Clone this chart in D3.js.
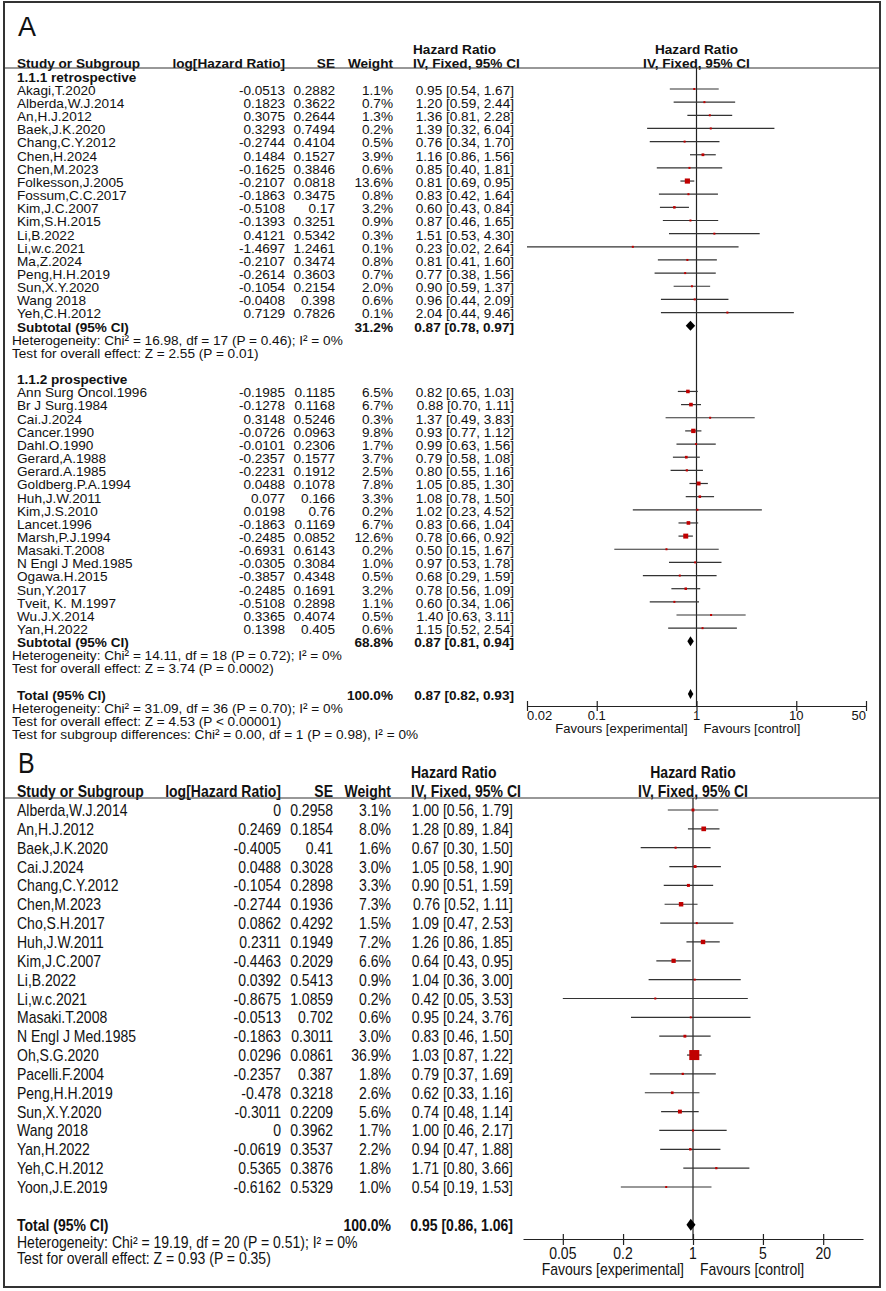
<!DOCTYPE html>
<html>
<head>
<meta charset="utf-8">
<script src="https://cdn.jsdelivr.net/npm/d3@7"></script>
<style>
  body { margin: 0; background: #fff; }
  text { font-family: "Liberation Sans", Arial, sans-serif; fill: #111; }
</style>
</head>
<body>
<svg id="chart" width="886" height="1291"></svg>
<script>
// ---- panel A, subgroup 1.1.1 retrospective
var retroStudy = ["Akagi,T.2020", "Alberda,W.J.2014", "An,H.J.2012", "Baek,J.K.2020", "Chang,C.Y.2012", "Chen,H.2024",
  "Chen,M.2023", "Folkesson,J.2005", "Fossum,C.C.2017", "Kim,J.C.2007", "Kim,S.H.2015", "Li,B.2022", "Li,w.c.2021",
  "Ma,Z.2024", "Peng,H.H.2019", "Sun,X.Y.2020", "Wang 2018", "Yeh,C.H.2012"];
var retroLogHR = [-0.0513, 0.1823, 0.3075, 0.3293, -0.2744, 0.1484, -0.1625, -0.2107, -0.1863, -0.5108, -0.1393, 0.4121,
  -1.4697, -0.2107, -0.2614, -0.1054, -0.0408, 0.7129];
var retroSE = [0.2882, 0.3622, 0.2644, 0.7494, 0.4104, 0.1527, 0.3846, 0.0818, 0.3475, 0.17, 0.3251, 0.5342, 1.2461,
  0.3474, 0.3603, 0.2154, 0.398, 0.7826];
var retroWeight = [1.1, 0.7, 1.3, 0.2, 0.5, 3.9, 0.6, 13.6, 0.8, 3.2, 0.9, 0.3, 0.1, 0.8, 0.7, 2.0, 0.6, 0.1];
var retroHR = [0.95, 1.20, 1.36, 1.39, 0.76, 1.16, 0.85, 0.81, 0.83, 0.60, 0.87, 1.51, 0.23, 0.81, 0.77, 0.90, 0.96, 2.04];
var retroLo = [0.54, 0.59, 0.81, 0.32, 0.34, 0.86, 0.40, 0.69, 0.42, 0.43, 0.46, 0.53, 0.02, 0.41, 0.38, 0.59, 0.44, 0.44];
var retroHi = [1.67, 2.44, 2.28, 6.04, 1.70, 1.56, 1.81, 0.95, 1.64, 0.84, 1.65, 4.30, 2.64, 1.60, 1.56, 1.37, 2.09, 9.46];
var retroSub = {w: 31.2, hr: 0.87, lo: 0.78, hi: 0.97};
var retroNotes = ["Heterogeneity: Chi\u00b2 = 16.98, df = 17 (P = 0.46); I\u00b2 = 0%",
  "Test for overall effect: Z = 2.55 (P = 0.01)"];

// ---- panel A, subgroup 1.1.2 prospective
var prosStudy = ["Ann Surg Oncol.1996", "Br J Surg.1984", "Cai.J.2024", "Cancer.1990", "Dahl.O.1990", "Gerard,A.1988",
  "Gerard.A.1985", "Goldberg.P.A.1994", "Huh,J.W.2011", "Kim,J.S.2010", "Lancet.1996", "Marsh,P.J.1994", "Masaki.T.2008",
  "N Engl J Med.1985", "Ogawa.H.2015", "Sun,Y.2017", "Tveit, K. M.1997", "Wu.J.X.2014", "Yan,H.2022"];
var prosLogHR = [-0.1985, -0.1278, 0.3148, -0.0726, -0.0101, -0.2357, -0.2231, 0.0488, 0.077, 0.0198, -0.1863, -0.2485,
  -0.6931, -0.0305, -0.3857, -0.2485, -0.5108, 0.3365, 0.1398];
var prosSE = [0.1185, 0.1168, 0.5246, 0.0963, 0.2306, 0.1577, 0.1912, 0.1078, 0.166, 0.76, 0.1169, 0.0852, 0.6143, 0.3084,
  0.4348, 0.1691, 0.2898, 0.4074, 0.405];
var prosWeight = [6.5, 6.7, 0.3, 9.8, 1.7, 3.7, 2.5, 7.8, 3.3, 0.2, 6.7, 12.6, 0.2, 1.0, 0.5, 3.2, 1.1, 0.5, 0.6];
var prosHR = [0.82, 0.88, 1.37, 0.93, 0.99, 0.79, 0.80, 1.05, 1.08, 1.02, 0.83, 0.78, 0.50, 0.97, 0.68, 0.78, 0.60, 1.40, 1.15];
var prosLo = [0.65, 0.70, 0.49, 0.77, 0.63, 0.58, 0.55, 0.85, 0.78, 0.23, 0.66, 0.66, 0.15, 0.53, 0.29, 0.56, 0.34, 0.63, 0.52];
var prosHi = [1.03, 1.11, 3.83, 1.12, 1.56, 1.08, 1.16, 1.30, 1.50, 4.52, 1.04, 0.92, 1.67, 1.78, 1.59, 1.09, 1.06, 3.11, 2.54];
var prosSub = {w: 68.8, hr: 0.87, lo: 0.81, hi: 0.94};
var prosNotes = ["Heterogeneity: Chi\u00b2 = 14.11, df = 18 (P = 0.72); I\u00b2 = 0%",
  "Test for overall effect: Z = 3.74 (P = 0.0002)"];

var totalA = {w: 100.0, hr: 0.87, lo: 0.82, hi: 0.93};
var totalANotes = ["Heterogeneity: Chi\u00b2 = 31.09, df = 36 (P = 0.70); I\u00b2 = 0%",
  "Test for overall effect: Z = 4.53 (P < 0.00001)",
  "Test for subgroup differences: Chi\u00b2 = 0.00, df = 1 (P = 0.98), I\u00b2 = 0%"];
var ticksA = [0.02, 0.1, 1, 10, 50];

// ---- panel B
var bStudy = ["Alberda,W.J.2014", "An,H.J.2012", "Baek,J.K.2020", "Cai.J.2024", "Chang,C.Y.2012", "Chen,M.2023",
  "Cho,S.H.2017", "Huh,J.W.2011", "Kim,J.C.2007", "Li,B.2022", "Li,w.c.2021", "Masaki.T.2008", "N Engl J Med.1985",
  "Oh,S.G.2020", "Pacelli.F.2004", "Peng,H.H.2019", "Sun,X.Y.2020", "Wang 2018", "Yan,H.2022", "Yeh,C.H.2012",
  "Yoon,J.E.2019"];
var bLogHR = [0, 0.2469, -0.4005, 0.0488, -0.1054, -0.2744, 0.0862, 0.2311, -0.4463, 0.0392, -0.8675, -0.0513, -0.1863,
  0.0296, -0.2357, -0.478, -0.3011, 0, -0.0619, 0.5365, -0.6162];
var bSE = [0.2958, 0.1854, 0.41, 0.3028, 0.2898, 0.1936, 0.4292, 0.1949, 0.2029, 0.5413, 1.0859, 0.702, 0.3011, 0.0861,
  0.387, 0.3218, 0.2209, 0.3962, 0.3537, 0.3876, 0.5329];
var bWeight = [3.1, 8.0, 1.6, 3.0, 3.3, 7.3, 1.5, 7.2, 6.6, 0.9, 0.2, 0.6, 3.0, 36.9, 1.8, 2.6, 5.6, 1.7, 2.2, 1.8, 1.0];
var bHR = [1.00, 1.28, 0.67, 1.05, 0.90, 0.76, 1.09, 1.26, 0.64, 1.04, 0.42, 0.95, 0.83, 1.03, 0.79, 0.62, 0.74, 1.00,
  0.94, 1.71, 0.54];
var bLo = [0.56, 0.89, 0.30, 0.58, 0.51, 0.52, 0.47, 0.86, 0.43, 0.36, 0.05, 0.24, 0.46, 0.87, 0.37, 0.33, 0.48, 0.46,
  0.47, 0.80, 0.19];
var bHi = [1.79, 1.84, 1.50, 1.90, 1.59, 1.11, 2.53, 1.85, 0.95, 3.00, 3.53, 3.76, 1.50, 1.22, 1.69, 1.16, 1.14, 2.17,
  1.88, 3.66, 1.53];
var totalB = {w: 100.0, hr: 0.95, lo: 0.86, hi: 1.06};
var totalBNotes = ["Heterogeneity: Chi\u00b2 = 19.19, df = 20 (P = 0.51); I\u00b2 = 0%",
  "Test for overall effect: Z = 0.93 (P = 0.35)"];
var ticksB = [0.05, 0.2, 1, 5, 20];

var svg = d3.select("#chart");
svg.append("rect").attr("width", 886).attr("height", 1291).attr("fill", "#fff");
svg.append("rect")
  .attr("x", 4).attr("y", 2).attr("width", 876).attr("height", 1285)
  .attr("fill", "none").attr("stroke", "#333").attr("stroke-width", 2);

function fmtCI(h, l, u) {
  return h.toFixed(2) + " [" + l.toFixed(2) + ", " + u.toFixed(2) + "]";
}

function studyRows(names, logs, ses, ws, hrs, los, his, start) {
  return names.map(function(n, k) {
    return {type: "study", i: start + k, name: n, log: logs[k], se: ses[k], w: ws[k], hr: hrs[k], lo: los[k], hi: his[k]};
  });
}

function put(g, P, x, yc, str, anchor, bold, size) {
  var fs = size || P.fs;
  g.append("text")
    .attr("transform", "translate(" + x + "," + (yc + fs * 0.36) + ") scale(1," + P.sy + ")")
    .attr("text-anchor", anchor || "start")
    .style("font-size", fs + "px")
    .style("font-weight", bold ? "bold" : "normal")
    .text(str);
}

function drawPanel(P, rows) {
  var g = svg.append("g");
  var x = d3.scaleLog().domain([0.02, 50]).range(P.xRange);
  var y = d3.scaleLinear().domain([0, 1]).range([P.row0, P.row0 + P.step]);

  // panel letter + headers
  put(g, P, 18, P.labelY, P.label, "start", false, P.labelSize);
  put(g, P, P.hrHeadX, P.head1, "Hazard Ratio", "start", true);
  put(g, P, x(1), P.head1, "Hazard Ratio", "middle", true);
  put(g, P, P.nameX, P.head2, "Study or Subgroup", "start", true);
  put(g, P, P.logX, P.head2, "log[Hazard Ratio]", "end", true);
  put(g, P, P.seX, P.head2, "SE", "end", true);
  put(g, P, P.wX, P.head2, "Weight", "end", true);
  put(g, P, P.hrHeadX, P.head2, "IV, Fixed, 95% CI", "start", true);
  put(g, P, x(1), P.head2, "IV, Fixed, 95% CI", "middle", true);

  g.append("line")
    .attr("x1", 4).attr("x2", 879).attr("y1", P.lineY).attr("y2", P.lineY)
    .attr("stroke", "#333").attr("stroke-width", 1.2);

  // line of no effect
  g.append("line")
    .attr("x1", x(1)).attr("x2", x(1)).attr("y1", P.lineY).attr("y2", P.axisY)
    .attr("stroke", "#222").attr("stroke-width", 1.2);

  rows.forEach(function(r) {
    var yc = y(r.i);
    if (r.type === "group") {
      put(g, P, P.nameX, yc, r.label, "start", true);
    } else if (r.type === "note") {
      put(g, P, P.noteX, yc, r.label, "start", false);
    } else if (r.type === "study") {
      put(g, P, P.nameX, yc, r.name, "start", false);
      put(g, P, P.logX, yc, String(r.log), "end", false);
      put(g, P, P.seX, yc, String(r.se), "end", false);
      put(g, P, P.wX, yc, r.w.toFixed(1) + "%", "end", false);
      put(g, P, P.hrX, yc, fmtCI(r.hr, r.lo, r.hi), "end", false);
      var ly = yc - 1;
      g.append("line")
        .attr("x1", x(r.lo)).attr("x2", x(r.hi))
        .attr("y1", ly).attr("y2", ly)
        .attr("stroke", "#333").attr("stroke-width", 1.2);
      var s = Math.max(2, P.sqK * Math.sqrt(r.w));
      g.append("rect")
        .attr("x", x(r.hr) - s / 2).attr("y", ly - s / 2)
        .attr("width", s).attr("height", s)
        .attr("fill", "#c00000");
    } else if (r.type === "pooled") {
      put(g, P, P.nameX, yc, r.label, "start", true);
      put(g, P, P.wX, yc, r.w.toFixed(1) + "%", "end", true);
      put(g, P, P.hrX, yc, fmtCI(r.hr, r.lo, r.hi), "end", true);
      var dy = yc - 1, h = P.diaH / 2;
      g.append("path")
        .attr("d", "M" + x(r.lo) + "," + dy + "L" + x(r.hr) + "," + (dy - h) +
          "L" + x(r.hi) + "," + dy + "L" + x(r.hr) + "," + (dy + h) + "Z")
        .attr("fill", "#000");
    }
  });

  // axis
  var ax = g.append("g")
    .attr("transform", "translate(0," + P.axisY + ")")
    .call(d3.axisBottom(x).tickValues(P.ticks).tickFormat(d3.format("")).tickSizeOuter(0).tickSizeInner(P.tickDown));
  ax.select(".domain").attr("stroke", "#222").attr("stroke-width", 1.2);
  ax.selectAll(".tick line").attr("y1", -P.tickUp).attr("stroke", "#222").attr("stroke-width", 1.2);
  ax.selectAll(".tick text").remove();
  P.ticks.forEach(function(t, k) {
    var anchor = "middle";
    if (P.edgeLabels && k === 0) anchor = "start";
    if (P.edgeLabels && k === P.ticks.length - 1) anchor = "end";
    put(g, P, x(t), P.tickLabY, String(t), anchor, false, P.axisFs);
  });
  put(g, P, x(1) - 9, P.favY, "Favours [experimental]", "end", false, P.axisFs);
  put(g, P, x(1) + 7, P.favY, "Favours [control]", "start", false, P.axisFs);
}

// ---- build rows for panel A
var rowsA = [{type: "group", i: -1, label: "1.1.1 retrospective"}]
  .concat(studyRows(retroStudy, retroLogHR, retroSE, retroWeight, retroHR, retroLo, retroHi, 0))
  .concat([
    {type: "pooled", i: 18, label: "Subtotal (95% CI)", w: retroSub.w, hr: retroSub.hr, lo: retroSub.lo, hi: retroSub.hi},
    {type: "note", i: 19, label: retroNotes[0]},
    {type: "note", i: 20, label: retroNotes[1]},
    {type: "group", i: 22, label: "1.1.2 prospective"}
  ])
  .concat(studyRows(prosStudy, prosLogHR, prosSE, prosWeight, prosHR, prosLo, prosHi, 23))
  .concat([
    {type: "pooled", i: 42, label: "Subtotal (95% CI)", w: prosSub.w, hr: prosSub.hr, lo: prosSub.lo, hi: prosSub.hi},
    {type: "note", i: 43, label: prosNotes[0]},
    {type: "note", i: 44, label: prosNotes[1]},
    {type: "pooled", i: 46, label: "Total (95% CI)", w: totalA.w, hr: totalA.hr, lo: totalA.lo, hi: totalA.hi},
    {type: "note", i: 47, label: totalANotes[0]},
    {type: "note", i: 48, label: totalANotes[1]},
    {type: "note", i: 49, label: totalANotes[2]}
  ]);

drawPanel({
  label: "A", labelY: 26, labelSize: 27,
  fs: 13.6, sy: 1.0, axisFs: 13,
  nameX: 17, noteX: 12, logX: 285, seX: 335, wX: 393, hrX: 514, hrHeadX: 413,
  xRange: [527, 866],
  row0: 90, step: 13.15,
  head1: 49, head2: 63, lineY: 68, axisY: 706,
  tickUp: 5, tickDown: 5, tickLabY: 715, favY: 728, edgeLabels: true,
  ticks: ticksA, sqK: 1.4, diaH: 10
}, rowsA);

// ---- rows for panel B
var rowsB = studyRows(bStudy, bLogHR, bSE, bWeight, bHR, bLo, bHi, 0)
  .concat([
    {type: "pooled", i: 22, label: "Total (95% CI)", w: totalB.w, hr: totalB.hr, lo: totalB.lo, hi: totalB.hi},
    {type: "note", i: 22.9, label: totalBNotes[0]},
    {type: "note", i: 23.75, label: totalBNotes[1]}
  ]);

drawPanel({
  label: "B", labelY: 764, labelSize: 25,
  fs: 14, sy: 1.15, axisFs: 14,
  nameX: 17, noteX: 17, logX: 281, seX: 333, wX: 391, hrX: 513, hrHeadX: 411,
  xRange: [523, 863],
  row0: 811, step: 18.85,
  head1: 773, head2: 792, lineY: 798, axisY: 1239,
  tickUp: 5, tickDown: 6, tickLabY: 1254, favY: 1270, edgeLabels: false,
  ticks: ticksB, sqK: 1.65, diaH: 12
}, rowsB);
</script>
</body>
</html>
